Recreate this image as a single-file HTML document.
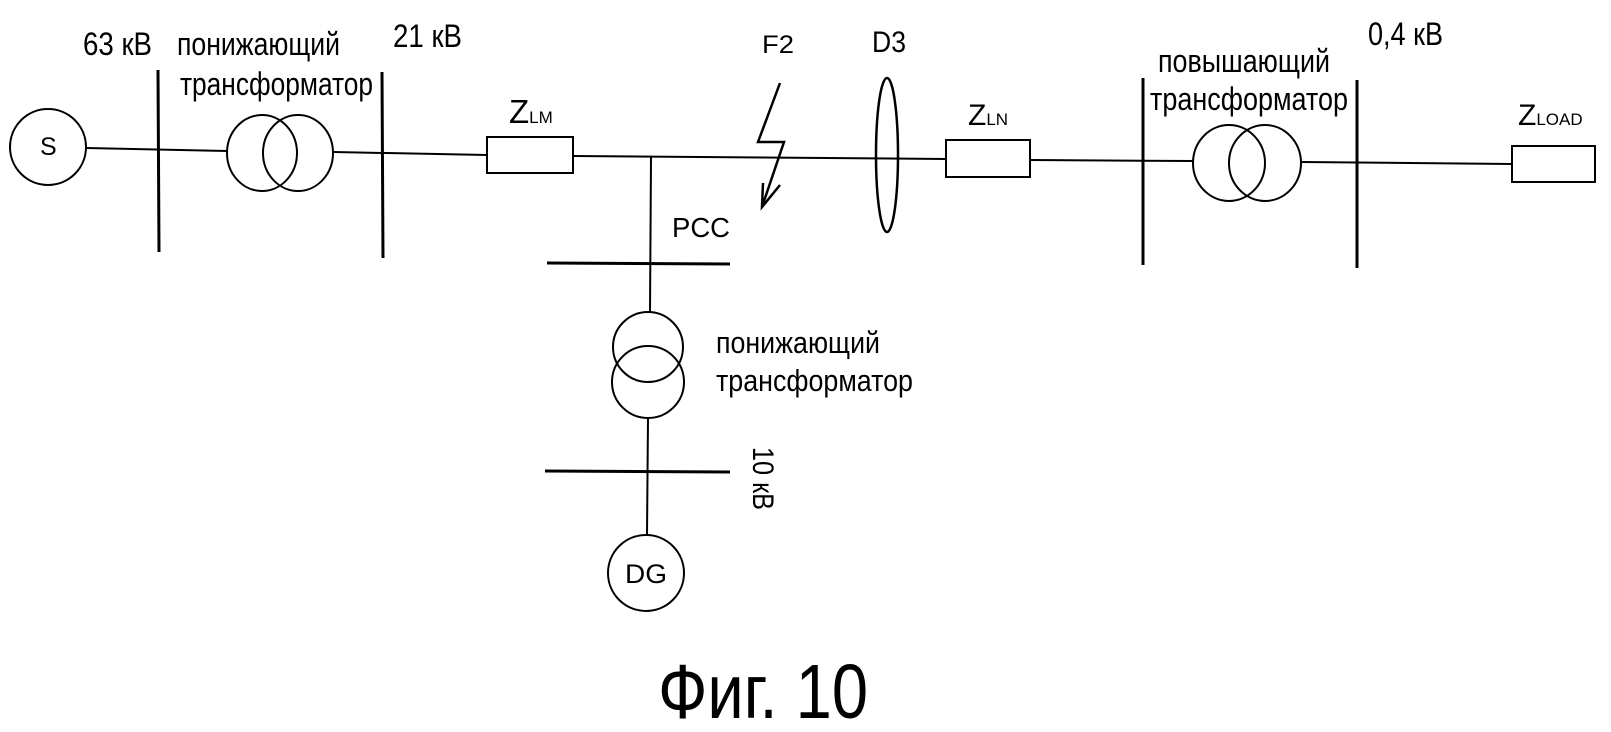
<!DOCTYPE html>
<html><head><meta charset="utf-8"><style>
html,body{margin:0;padding:0;background:#fff;}
svg{display:block}
text{font-family:"Liberation Sans",sans-serif;fill:#000;}
</style></head><body>
<svg width="1611" height="732" viewBox="0 0 1611 732" xmlns="http://www.w3.org/2000/svg">
<g stroke="#000" fill="none" stroke-width="2">
<polyline points="86,148 227,151"/>
<polyline points="334,152 487,155"/>
<polyline points="573,156 946,159"/>
<polyline points="1030,160 1193,161"/>
<polyline points="1302,162 1512,164"/>
<circle cx="48" cy="147" r="38"/>
<line x1="158" y1="70" x2="159" y2="252" stroke-width="3"/>
<line x1="382" y1="72" x2="383" y2="258" stroke-width="3"/>
<line x1="1143" y1="78" x2="1143" y2="265" stroke-width="3"/>
<line x1="1357" y1="80" x2="1357" y2="268" stroke-width="3"/>
<ellipse cx="262" cy="153" rx="35" ry="38"/>
<ellipse cx="298" cy="153" rx="35" ry="38"/>
<rect x="487" y="137" width="86" height="36"/>
<line x1="651" y1="157" x2="650" y2="312"/>
<line x1="547" y1="263" x2="730" y2="264" stroke-width="3"/>
<circle cx="648" cy="347" r="35"/>
<circle cx="648" cy="382" r="36"/>
<line x1="648" y1="418" x2="647" y2="535"/>
<line x1="545" y1="471" x2="730" y2="472" stroke-width="3"/>
<circle cx="646" cy="573" r="38"/>
<polyline points="780,83 758,142 784,142 762,207" stroke-width="2.5"/>
<polyline points="763,183 762,207 780,185" stroke-width="2.5"/>
<ellipse cx="887" cy="155" rx="11" ry="77" stroke-width="2.5"/>
<rect x="946" y="140" width="84" height="37"/>
<ellipse cx="1229" cy="163" rx="36" ry="38"/>
<ellipse cx="1265" cy="163" rx="36" ry="38"/>
<rect x="1512" y="146" width="83" height="36"/>
</g>
<g font-size="32">
<text x="40" y="155" font-size="25">S</text>
<text x="83" y="55" textLength="69" lengthAdjust="spacingAndGlyphs">63 кВ</text>
<text x="177" y="55" textLength="163" lengthAdjust="spacingAndGlyphs">понижающий</text>
<text x="180" y="95" textLength="193" lengthAdjust="spacingAndGlyphs">трансформатор</text>
<text x="393" y="47" textLength="69" lengthAdjust="spacingAndGlyphs">21 кВ</text>
<text x="509" y="123" font-size="33">Z<tspan font-size="17">LM</tspan></text>
<text x="762" y="53" font-size="25" textLength="32" lengthAdjust="spacingAndGlyphs">F2</text>
<text x="672" y="237" font-size="28" textLength="58" lengthAdjust="spacingAndGlyphs">PCC</text>
<text x="872" y="52" font-size="30" textLength="34" lengthAdjust="spacingAndGlyphs">D3</text>
<text x="968" y="125" font-size="30">Z<tspan font-size="17">LN</tspan></text>
<text x="1368" y="45" textLength="75" lengthAdjust="spacingAndGlyphs">0,4 кВ</text>
<text x="1158" y="72" textLength="172" lengthAdjust="spacingAndGlyphs">повышающий</text>
<text x="1150" y="110" textLength="198" lengthAdjust="spacingAndGlyphs">трансформатор</text>
<text x="1518" y="125" font-size="30">Z<tspan font-size="17">LOAD</tspan></text>
<text x="716" y="353" font-size="31" textLength="164" lengthAdjust="spacingAndGlyphs">понижающий</text>
<text x="716" y="391" font-size="31" textLength="197" lengthAdjust="spacingAndGlyphs">трансформатор</text>
<text transform="translate(753,447) rotate(90)" font-size="30" textLength="63" lengthAdjust="spacingAndGlyphs">10 кВ</text>
<text x="625" y="583" font-size="27" textLength="42" lengthAdjust="spacingAndGlyphs">DG</text>
<text x="658" y="718" font-size="77" textLength="210" lengthAdjust="spacingAndGlyphs">Фиг. 10</text>
</g>
</svg>
</body></html>
